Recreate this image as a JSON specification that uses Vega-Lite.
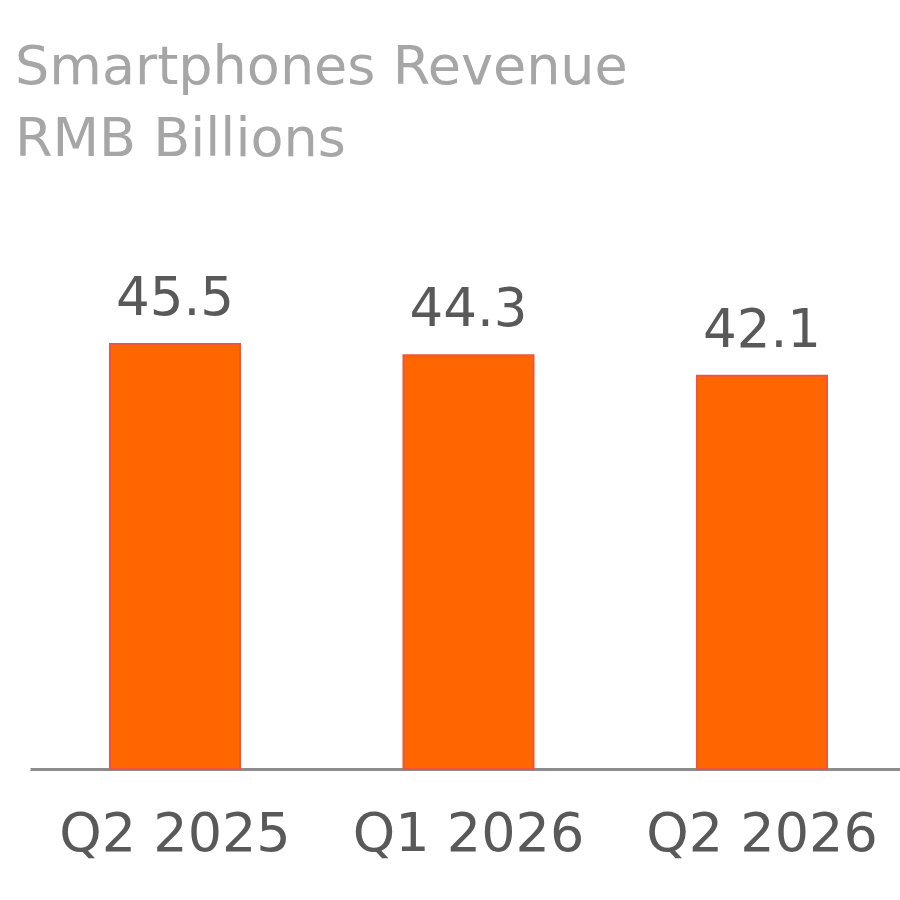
{
  "$schema": "https://vega.github.io/schema/vega-lite/v6.json",
  "autosize": "none",
  "width": 877,
  "height": 467,
  "padding": {"top": 302, "left": 30, "right": 0, "bottom": 131},
  "background": "white",
  "config": {"view": {"stroke": null}, "font": "DejaVu Sans"},
  "title": {
    "text": ["Smartphones Revenue", "RMB Billions"],
    "anchor": "start",
    "frame": "group",
    "orient": "top",
    "offset": 106,
    "dx": -15,
    "fontSize": 54,
    "fontWeight": "normal",
    "lineHeight": 72,
    "color": "#a6a6a6",
    "font": "DejaVu Sans",
    "limit": 0
  },
  "data": {
    "values": [
      {"quarter": "Q2 2025", "revenue": 45.5},
      {"quarter": "Q1 2026", "revenue": 44.3},
      {"quarter": "Q2 2026", "revenue": 42.1}
    ]
  },
  "encoding": {
    "x": {
      "field": "quarter",
      "type": "nominal",
      "sort": null,
      "scale": {"paddingInner": 0.557, "paddingOuter": 0.2725},
      "axis": {
        "title": null,
        "labelAngle": 0,
        "ticks": false,
        "domainColor": "#8c8c8c",
        "domainWidth": 3,
        "labelFontSize": 54,
        "labelColor": "#595959",
        "labelPadding": 38,
        "labelLimit": 0,
        "labelFont": "DejaVu Sans"
      }
    },
    "y": {
      "field": "revenue",
      "type": "quantitative",
      "scale": {"domain": [0, 50]},
      "axis": null
    }
  },
  "layer": [
    {
      "mark": {"type": "bar", "color": "#ff6600", "stroke": "#f0553c", "strokeWidth": 2}
    },
    {
      "mark": {
        "type": "text",
        "baseline": "bottom",
        "dy": -18,
        "fontSize": 53,
        "color": "#595959",
        "font": "DejaVu Sans"
      },
      "encoding": {"text": {"field": "revenue", "type": "quantitative", "format": ".1f"}}
    }
  ]
}
